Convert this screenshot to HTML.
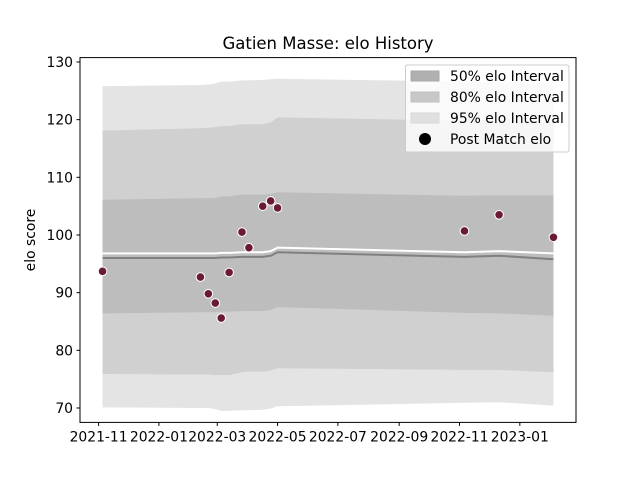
<!DOCTYPE html>
<html><head><meta charset="utf-8">
<style>
body{margin:0;background:#fff;}
svg{display:block;font-family:"DejaVu Sans","Liberation Sans",sans-serif;}
</style></head>
<body>
<svg id="chart" width="640" height="480" viewBox="0 0 640 480">
<rect width="640" height="480" fill="#fff"/>
<text x="328" y="49" text-anchor="middle" font-size="16.5" fill="#000">Gatien Masse: elo History</text>
<g id="bands"></g>
<g id="lines"></g>
<g id="points"></g>
<rect x="80" y="57.6" width="496" height="364.8" fill="none" stroke="#000" stroke-width="1"/>
<g id="yaxis"></g>
<g id="xaxis"></g>
<text transform="translate(35,240) rotate(-90)" text-anchor="middle" font-size="13.9">elo score</text>
<g>
<rect x="405.5" y="65" width="163.5" height="87" rx="2" fill="#fff" fill-opacity="0.8" stroke="#ccc"/>
<rect x="411" y="71" width="28" height="10" fill="#b0b0b0" stroke="#a8a8a8"/>
<text x="450" y="81" font-size="13.9">50% elo Interval</text>
<rect x="411" y="92" width="28" height="10" fill="#c8c8c8" stroke="#c0c0c0"/>
<text x="450" y="102" font-size="13.9">80% elo Interval</text>
<rect x="411" y="113" width="28" height="10" fill="#e0e0e0" stroke="#d8d8d8"/>
<text x="450" y="123" font-size="13.9">95% elo Interval</text>
<circle cx="425" cy="139" r="6" fill="#000"/>
<text x="450" y="144" font-size="13.9">Post Match elo</text>
</g>
</svg>
<script>
const dates = ["2021-11-05","2022-02-12","2022-02-20","2022-02-27","2022-03-05","2022-03-13","2022-03-26","2022-04-02","2022-04-16","2022-04-24","2022-05-01","2022-11-06","2022-12-11","2023-02-04"];
const elo = [93.7,92.7,89.8,88.2,85.6,93.5,100.5,97.8,105.0,105.9,104.7,100.7,103.5,99.6];
const meanLine = [96.0,96.0,96.0,96.0,96.1,96.1,96.2,96.2,96.2,96.4,97.0,96.2,96.4,95.8];
const medianLine = [96.8,96.8,96.8,96.8,96.9,96.9,97.0,97.0,97.0,97.2,97.8,97.0,97.2,96.8];
const p25 = [86.4,86.6,86.6,86.6,86.7,86.7,86.8,86.8,86.8,87.0,87.5,86.5,86.4,86.0];
const p75 = [106.1,106.4,106.4,106.4,106.7,106.7,107.0,107.0,107.0,107.1,107.4,106.8,106.9,106.9];
const p10 = [75.9,75.8,75.8,75.7,75.7,75.7,76.2,76.3,76.3,76.5,76.9,76.6,76.6,76.2];
const p90 = [118.1,118.5,118.6,118.7,118.9,118.9,119.2,119.2,119.2,119.5,120.4,119.8,119.8,119.6];
const p025 = [70.1,70.0,70.0,69.8,69.5,69.5,69.6,69.6,69.7,69.9,70.3,70.9,71.0,70.4];
const p975 = [125.8,126.0,126.1,126.3,126.6,126.6,126.8,126.8,126.9,127.0,127.1,126.6,126.5,126.3];
const yTicks = [70,80,90,100,110,120,130];
const xTicks = ["2021-11-01","2022-01-01","2022-03-01","2022-05-01","2022-07-01","2022-09-01","2022-11-01","2023-01-01"];
const xTickLabels = ["2021-11","2022-01","2022-03","2022-05","2022-07","2022-09","2022-11","2023-01"];

const NS="http://www.w3.org/2000/svg";
const L=80,R=576,T=57.6,B=422.4;
const ms=s=>Date.parse(s+"T00:00:00Z");
const tmin=Math.min(...dates.map(ms)),tmax=Math.max(...dates.map(ms));
const pad=(tmax-tmin)*0.05;
const x=d=>L+(ms(d)-(tmin-pad))/((tmax+pad)-(tmin-pad))*(R-L);
const Y0=67.5,Y1=130.76;
const y=v=>B-(v-Y0)/(Y1-Y0)*(B-T);
function el(tag,attrs,parent){const e=document.createElementNS(NS,tag);for(const k in attrs)e.setAttribute(k,attrs[k]);parent.appendChild(e);return e;}
function band(lo,hi,fill,name){
  let d="M"+dates.map((dt,i)=>x(dt)+","+y(hi[i])).join("L");
  for(let i=dates.length-1;i>=0;i--)d+="L"+x(dates[i])+","+y(lo[i]);
  const p=el("path",{d:d+"Z",fill:fill},document.getElementById("bands"));
  
  
}
band(p025,p975,"#e4e4e4","band-95");
band(p10,p90,"#d0d0d0","band-80");
band(p25,p75,"#bdbdbd","band-50");
const lg=document.getElementById("lines");
const ml=el("polyline",{points:dates.map((d,i)=>x(d)+","+y(meanLine[i])).join(" "),fill:"none",stroke:"#808080","stroke-width":2},lg);


const wl=el("polyline",{points:dates.map((d,i)=>x(d)+","+y(medianLine[i])).join(" "),fill:"none",stroke:"#fff","stroke-width":2},lg);


const pg=document.getElementById("points");
dates.forEach((d,i)=>{
  const c=el("circle",{cx:x(d),cy:y(elo[i]),r:4.3,fill:"#6b1a34",stroke:"#fff","stroke-width":1},pg);
  
  
});
const ya=document.getElementById("yaxis");
yTicks.forEach(v=>{
  const t=el("line",{x1:L-3.5,x2:L,y1:y(v),y2:y(v),stroke:"#000"},ya);
  
  
  const tx=el("text",{x:L-7,y:y(v)+5,"text-anchor":"end","font-size":13.9},ya);
  tx.textContent=v;
  
  
});
const xa=document.getElementById("xaxis");
xTicks.forEach((d,i)=>{
  const t=el("line",{x1:x(d),x2:x(d),y1:B,y2:B+3.5,stroke:"#000"},xa);
  
  
  const tx=el("text",{x:x(d),y:B+19,"text-anchor":"middle","font-size":13.9},xa);
  tx.textContent=xTickLabels[i];
  
  
});
</script>
</body></html>
